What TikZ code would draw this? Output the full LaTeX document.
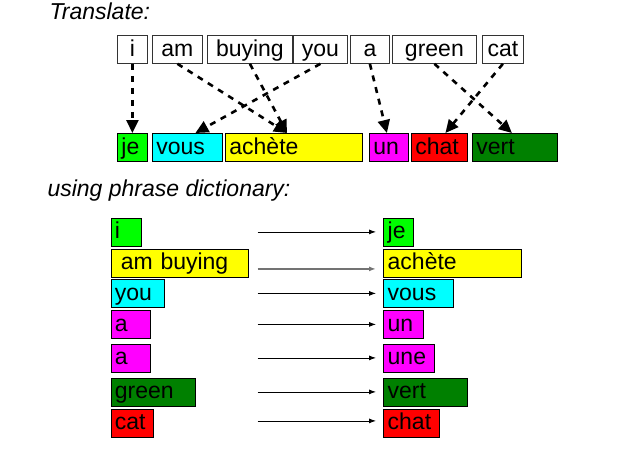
\documentclass[tikz,border=0pt]{standalone}
\usepackage{fontspec}
\setmainfont{Liberation Sans}
\usetikzlibrary{arrows.meta}

\definecolor{wgreen}{RGB}{0,255,0}
\definecolor{wcyan}{RGB}{0,255,255}
\definecolor{wyellow}{RGB}{255,255,0}
\definecolor{wmagenta}{RGB}{255,0,255}
\definecolor{wred}{RGB}{255,0,0}
\definecolor{wdark}{RGB}{0,128,0}

\begin{document}
\begin{tikzpicture}[x=1pt, y=-1pt,
    every node/.style={font=\fontsize{23}{27}\selectfont},
    wordbox/.style={draw=black!80, line width=0.8pt, anchor=north west, inner sep=0pt,
        minimum height=28pt, text height=18pt, text depth=4pt},
    colbox/.style={draw=black, line width=0.8pt, anchor=north west, inner xsep=4pt,
        inner ysep=0pt, minimum height=28pt, text height=18pt, text depth=4pt, align=left},
    transarrow/.style={line width=2.6pt, dash pattern=on 6pt off 6pt,
        -{Triangle[width=12pt, length=13pt]}},
    dictarrow/.style={line width=0.8pt, -{Latex[length=7pt, width=5pt]}}]

        \useasboundingbox (0,0) rectangle (624,448);

        % Headings
        \node[anchor=base west, font=\fontsize{23}{27}\selectfont\itshape] (head1) at (46,19) {Translate:};
        \node[anchor=base west, font=\fontsize{23}{27}\selectfont\itshape] (head2) at (44,196) {using phrase dictionary:};

        % English sentence
        \node[wordbox, minimum width=30pt] (i) at (117,35) {i};
        \node[wordbox, minimum width=50pt] (am) at (152,35) {am};
        \node[wordbox, minimum width=85pt] (buying) at (207,35) {buying};
        \node[wordbox, minimum width=54pt] (you) at (293,35) {you};
        \node[wordbox, minimum width=39pt] (a) at (350,35) {a};
        \node[wordbox, minimum width=84pt] (green) at (392,35) {green};
        \node[wordbox, minimum width=41pt] (cat) at (482,35) {cat};

        % French sentence
        \node[colbox, fill=wgreen, text width=22pt] (je) at (117,133) {je};
        \node[colbox, fill=wcyan, text width=62pt] (vous) at (152,133) {vous};
        \node[colbox, fill=wyellow, text width=129pt] (achete) at (225,133) {achète};
        \node[colbox, fill=wmagenta, text width=31pt] (un) at (369,133) {un};
        \node[colbox, fill=wred, text width=48pt] (chat) at (411,133) {chat};
        \node[colbox, fill=wdark, text width=77pt] (vert) at (472,133) {vert};

        % Word alignment
        \draw[transarrow] (i.south) -- (je.north);
        \draw[transarrow] (am.south) -- ([xshift=62pt]achete.north west);
        \draw[transarrow] (buying.south) -- ([xshift=62pt]achete.north west);
        \draw[transarrow] (you.south) -- ([xshift=8pt]vous.north);
        \draw[transarrow] (a.south) -- ([xshift=-2pt]un.north);
        \draw[transarrow] (green.south) -- ([xshift=-3pt]vert.north);
        \draw[transarrow] (cat.south) -- ([xshift=6pt]chat.north);

        % Phrase dictionary, English side
        \node[colbox, fill=wgreen, text width=22pt] (di) at (110.5,217.5) {i};
        \node[colbox, fill=wyellow, text width=129pt] (dambuying) at (110.5,248.5) {\hspace{6pt}am buying};
        \node[colbox, fill=wcyan, text width=45pt] (dyou) at (110.5,279) {you};
        \node[colbox, fill=wmagenta, text width=31.5pt] (da) at (110.5,310) {a};
        \node[colbox, fill=wmagenta, text width=31.5pt] (daa) at (110.5,343.5) {a};
        \node[colbox, fill=wdark, text width=76.5pt] (dgreen) at (110.5,377.5) {green};
        \node[colbox, fill=wred, text width=34pt] (dcat) at (110.5,408.5) {cat};

        % Phrase dictionary, French side
        \node[colbox, fill=wgreen, text width=21.5pt] (dje) at (383.3,217.5) {je};
        \node[colbox, fill=wyellow, text width=129.5pt] (dachete) at (383.3,248.5) {achète};
        \node[colbox, fill=wcyan, text width=62pt] (dvous) at (383.3,279) {vous};
        \node[colbox, fill=wmagenta, text width=31.5pt] (dun) at (383.3,310) {un};
        \node[colbox, fill=wmagenta, text width=42.5pt] (dune) at (383.3,343.5) {une};
        \node[colbox, fill=wdark, text width=76pt] (dvert) at (383.3,377.5) {vert};
        \node[colbox, fill=wred, text width=48pt] (dchat) at (383.3,408.5) {chat};

        % Dictionary entries
        \draw[dictarrow] ([xshift=-125.6pt]dje.west) -- ([xshift=-7.3pt]dje.west);
        \draw[dictarrow, draw=black!55, line width=1.4pt] ([xshift=-125.6pt, yshift=-6pt]dachete.west) -- ([xshift=-7.3pt, yshift=-6pt]dachete.west);
        \draw[dictarrow] ([xshift=-125.6pt]dvous.west) -- ([xshift=-7.3pt]dvous.west);
        \draw[dictarrow] ([xshift=-125.6pt]dun.west) -- ([xshift=-7.3pt]dun.west);
        \draw[dictarrow] ([xshift=-125.6pt]dune.west) -- ([xshift=-7.3pt]dune.west);
        \draw[dictarrow] ([xshift=-125.6pt]dvert.west) -- ([xshift=-7.3pt]dvert.west);
        \draw[dictarrow] ([xshift=-125.6pt, yshift=2pt]dchat.west) -- ([xshift=-7.3pt, yshift=2pt]dchat.west);
    \end{tikzpicture}
\end{document}
